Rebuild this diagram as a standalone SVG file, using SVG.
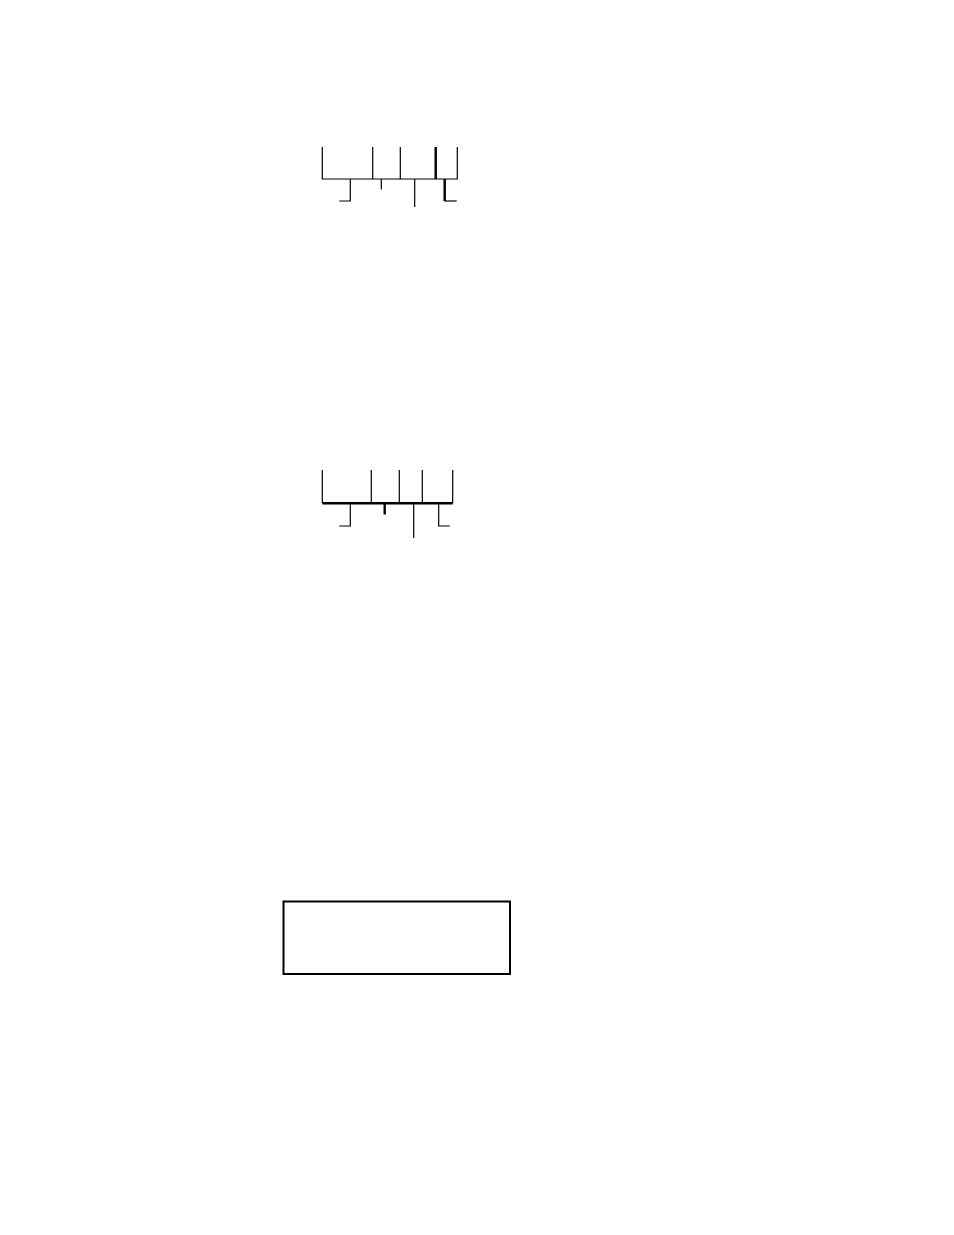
<svg xmlns="http://www.w3.org/2000/svg" width="954" height="1235" viewBox="0 0 954 1235">
<style>
.l{stroke:#000;stroke-width:1.2;fill:none}
.t{stroke:#000;stroke-width:2.4;fill:none}
</style>
<rect width="954" height="1235" fill="#fff"/>
<g id="bracket1">
<path class="l" d="M322.3,147 V179 H457.3 V147 M372.7,147 V179 M400.3,147 V179 M350.3,179 V201 H339.3 M381.3,179 V189.5 M414.7,179 V207"/>
<path class="t" d="M435.7,147 V179 M444.7,179 V201"/>
<path class="l" d="M444.7,201 H456.7"/>
</g>
<g id="bracket2">
<path class="l" d="M322.3,470 V503.3 M371.3,470 V503.3 M399.3,470 V503.3 M422.3,470 V503.3 M452.7,470 V503.3 M350.3,503.3 V526 H339.3 M413.7,503.3 V538 M438.7,503.3 V526 H449.7"/>
<path class="t" d="M322.3,503.3 H452.7 M384.7,503.3 V514.5"/>
</g>
<g id="box">
<rect x="283.5" y="901.5" width="226.5" height="72.5" fill="none" stroke="#000" stroke-width="2"/>
</g>
</svg>
